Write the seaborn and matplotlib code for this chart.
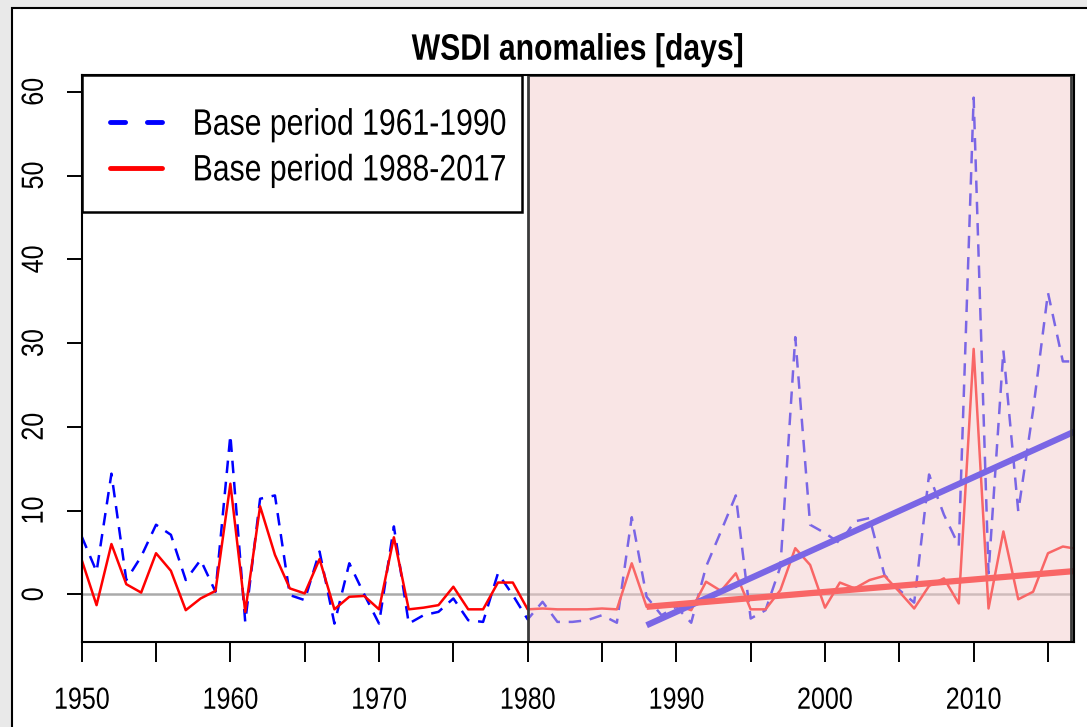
import numpy as np
import pandas as pd
import matplotlib
matplotlib.use("Agg")
import matplotlib.pyplot as plt
from matplotlib.patches import Rectangle
from matplotlib.lines import Line2D
from matplotlib.patheffects import AbstractPathEffect
from matplotlib.transforms import Affine2D
import seaborn as sns

years = list(range(1950, 2018))
wsdi_1961_1990 = [6.9, 2.7, 14.4, 1.7, 4.5, 8.3, 7.1, 1.7, 4.1, 0.3,
                  19.0, -3.3, 11.4, 11.8, -0.1, -0.7, 5.1, -3.5, 3.7, 0.0,
                  -3.5, 8.1, -3.5, -2.5, -2.1, -0.5, -3.1, -3.3, 2.5, -0.1,
                  -3.0, -0.9, -3.3, -3.3, -3.1, -2.5, -3.4, 9.2, -0.3, -2.5,
                  -1.5, -3.4, 3.3, 7.5, 11.8, -2.9, -1.9, 3.3, 30.7, 8.3,
                  7.3, 6.1, 8.7, 9.1, 2.3, 0.5, -1.0, 14.3, 9.5, 5.8,
                  59.3, 2.5, 29.1, 9.9, 22.0, 36.0, 27.8, 27.8]
wsdi_1988_2017 = [4.1, -1.3, 6.0, 1.2, 0.2, 4.9, 2.8, -1.9, -0.5, 0.4,
                  13.2, -2.1, 10.5, 4.7, 0.7, 0.1, 4.2, -1.8, -0.3, -0.2,
                  -1.8, 6.8, -1.8, -1.6, -1.3, 0.9, -1.8, -1.8, 1.4, 1.4,
                  -1.8, -1.7, -1.8, -1.8, -1.8, -1.7, -1.8, 3.7, -1.5, -1.5,
                  -1.3, -1.9, 1.5, 0.4, 2.5, -1.8, -1.8, 0.5, 5.5, 3.5,
                  -1.6, 1.4, 0.7, 1.7, 2.2, 0.3, -1.7, 1.0, 1.9, -1.1,
                  29.3, -1.7, 7.5, -0.6, 0.3, 4.9, 5.7, 5.4]
trend_years = [1988, 2017]
trend_1961_1990 = [-3.7, 19.6]
trend_1988_2017 = [-1.5, 2.8]
labels = ["Base period 1961-1990", "Base period 1988-2017"]
title = "WSDI anomalies [days]"
xtick_vals = list(range(1950, 2016, 5))
xtick_labels = [str(y) if y % 10 == 0 else "" for y in xtick_vals]
ytick_vals = [0, 10, 20, 30, 40, 50, 60]


class Narrow(AbstractPathEffect):
    """Condense glyphs along the text direction (mimics a narrow font)."""
    def __init__(self, sx=0.82, anchor="center"):
        super().__init__()
        self.sx = sx
        self.anchor = anchor

    def draw_path(self, renderer, gc, tpath, affine, rgbFace=None):
        ext = tpath.get_extents()
        cx = (ext.x0 + ext.x1) / 2 if self.anchor == "center" else ext.x0
        t = Affine2D().translate(-cx, 0).scale(self.sx, 1).translate(cx, 0)
        renderer.draw_path(gc, tpath, t + affine, rgbFace)


sns.set_style("ticks")
plt.rcParams["font.family"] = ["Liberation Sans", "DejaVu Sans"]
plt.rcParams["text.color"] = "black"

df = pd.DataFrame({"year": years, "b": wsdi_1961_1990, "r": wsdi_1988_2017})
tr = pd.DataFrame({"year": trend_years, "b": trend_1961_1990, "r": trend_1988_2017})

W, H = 1087, 727
fig = plt.figure(figsize=(W / 100, H / 100), dpi=100, facecolor="#e9e9e9")
panel = Rectangle((12 / W, -0.1), 1.2, 1 - 8 / H + 0.1,
                  transform=fig.transFigure, facecolor="white",
                  edgecolor="black", lw=1.5, zorder=-10)
fig.add_artist(panel)
AX_L, AX_R, AX_T, AX_B = 81.7, 1074, 75, 642
ax = fig.add_axes([AX_L / W, 1 - AX_B / H, (AX_R - AX_L) / W, (AX_B - AX_T) / H])
ax.set_zorder(5)
ax.set_facecolor("none")

XL = (1950, 2016.75)
YL = (-5.7, 62.0)

ax.axhline(0, color="#aaaaaa", lw=1.8, zorder=1)
sns.lineplot(data=df, x="year", y="b", ax=ax, color="blue", lw=1.8,
             linestyle=(0, (5, 3.5)), zorder=2)
sns.lineplot(data=df, x="year", y="r", ax=ax, color="red", lw=1.8, zorder=2)
sns.lineplot(data=tr, x="year", y="b", ax=ax, color="blue", lw=4.5, zorder=2,
             solid_capstyle="butt")
sns.lineplot(data=tr, x="year", y="r", ax=ax, color="red", lw=4.5, zorder=2,
             solid_capstyle="butt")

# shaded recent period overlay
ax.add_patch(Rectangle((1980, YL[0]), 2016.55 - 1980, YL[1] - YL[0],
                       facecolor=(245 / 255, 205 / 255, 205 / 255), alpha=0.5,
                       edgecolor="none", zorder=3))
ax.add_patch(Rectangle((1980, YL[0]), 2016.55 - 1980, YL[1] - YL[0],
                       facecolor="none", edgecolor="#3a3a3a", lw=2.0, zorder=4))

ax.set_xlim(*XL)
ax.set_ylim(*YL)
ax.set_xticks(xtick_vals)
ax.set_xticklabels(xtick_labels)
ax.set_yticks(ytick_vals)
ax.set_yticklabels([str(v) for v in ytick_vals], rotation=90, va="center")
ax.tick_params(axis="x", length=14.5, width=1.4, pad=17, labelsize=22, colors="black")
ax.tick_params(axis="y", length=11, width=1.4, pad=12, labelsize=22, colors="black")
ax.set_xlabel("")
ax.set_ylabel("")
for s in ax.spines.values():
    s.set_visible(True)
    s.set_linewidth(1.5)
    s.set_color("black")
    s.set_zorder(5)

ttl = ax.set_title(title, fontsize=26.5, fontweight="bold", pad=11, color="black")
ttl.set_path_effects([Narrow(0.82)])
for t in ax.get_xticklabels() + ax.get_yticklabels():
    t.set_path_effects([Narrow(0.82)])

# legend frame (drawn separately so it fits the condensed text)
ax_w, ax_h = AX_R - AX_L, AX_B - AX_T
ax.add_patch(Rectangle((0, 1 - (212 - AX_T) / ax_h), (522 - AX_L) / ax_w, (212 - AX_T) / ax_h,
                       transform=ax.transAxes, facecolor="white", edgecolor="black",
                       lw=1.8, zorder=5.5, clip_on=False))

handles = [Line2D([], [], color="blue", lw=3.5, linestyle=(0, (3.1, 4.5)), dash_capstyle="round"),
           Line2D([], [], color="red", lw=3.5, solid_capstyle="round")]
leg = ax.legend(handles, labels, loc="upper left", bbox_to_anchor=(0, 1 - 4.4 / ax_h),
                borderaxespad=0, fontsize=26.5, frameon=False,
                handlelength=1.41, handletextpad=0.82, borderpad=0.77,
                labelspacing=0.29, labelcolor="black")
for t in leg.get_texts():
    t.set_path_effects([Narrow(0.82, anchor="left")])
leg.set_zorder(6)

fig.savefig("out.png", dpi=100, facecolor=fig.get_facecolor())
